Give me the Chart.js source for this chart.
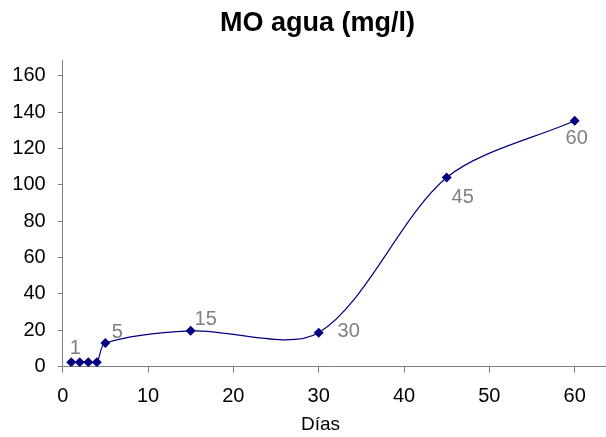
<!DOCTYPE html>
<html>
<head>
<meta charset="utf-8">
<script src="https://cdn.jsdelivr.net/npm/chart.js@4.4.1/dist/chart.umd.min.js"></script>
<style>
  html, body { margin: 0; padding: 0; background: #fff; overflow: hidden; }
  #contenedor { position: relative; width: 606px; height: 437px; }
  canvas { display: block; }
</style>
</head>
<body>
<div id="contenedor"><canvas id="grafica"></canvas></div>
<script>
// ── datos ──
const dias = [1, 2, 3, 4, 5, 15, 30, 45, 60];
const moAgua = [2.5, 2.5, 2.5, 2.5, 13, 19.7, 18.7, 104, 135.2];
const diasEtiquetados = [1, 5, 15, 30, 45, 60];
const ticksX = [0, 10, 20, 30, 40, 50, 60];
const ticksY = [0, 20, 40, 60, 80, 100, 120, 140, 160];
const titulo = "MO agua (mg/l)";
const tituloEjeX = "Días";

// desplazamiento (px) de cada etiqueta respecto a su punto
const desplazamiento = {
  1: [4, -14], 5: [12, -11], 15: [15, -11],
  30: [30, -1], 45: [16, 20], 60: [2, 18]
};

const fuente = "'Liberation Sans', Arial, sans-serif";
const colorSerie = "#000080";
const colorEje = "#808080";

// etiquetas de datos y títulos dibujados a mano
const textos = {
  id: "textos",
  afterDatasetsDraw(chart) {
    const ctx = chart.ctx;
    const meta = chart.getDatasetMeta(0);
    ctx.save();
    ctx.textAlign = "center";
    ctx.textBaseline = "middle";

    ctx.font = "20px " + fuente;
    ctx.fillStyle = "#808080";
    dias.forEach((d, i) => {
      if (!diasEtiquetados.includes(d)) return;
      const p = meta.data[i];
      const off = desplazamiento[d];
      ctx.fillText(String(d), p.x + off[0], p.y + off[1]);
    });

    ctx.fillStyle = "#000";
    ctx.font = "bold 27px " + fuente;
    ctx.fillText(titulo, 317.5, 24);

    ctx.font = "19px " + fuente;
    ctx.fillText(tituloEjeX, 320.5, 425);
    ctx.restore();
  }
};

new Chart(document.getElementById("grafica"), {
  type: "scatter",
  data: {
    datasets: [{
      data: dias.map((d, i) => ({ x: d, y: moAgua[i] })),
      showLine: true,
      tension: 0.3,
      borderColor: colorSerie,
      borderWidth: 1.2,
      backgroundColor: colorSerie,
      pointStyle: "rectRot",
      pointRadius: 5,
      pointBorderWidth: 0,
      fill: false
    }]
  },
  options: {
    responsive: true,
    maintainAspectRatio: false,
    animation: false,
    layout: {
      autoPadding: false,
      padding: { top: 60, left: 0, right: 0, bottom: 0 }
    },
    plugins: {
      legend: { display: false },
      tooltip: { enabled: false },
      title: { display: false }
    },
    scales: {
      x: {
        type: "linear",
        min: 0,
        max: 63.67,
        afterBuildTicks: s => { s.ticks = ticksX.map(v => ({ value: v })); },
        afterFit: s => {
          s.height = 70.3;
          s.paddingLeft = 0;
          s.paddingRight = 0;
        },
        border: { color: colorEje, width: 1 },
        grid: { drawOnChartArea: false, tickLength: 6, color: colorEje },
        ticks: {
          color: "#000",
          font: { size: 20, family: fuente },
          padding: 12,
          maxRotation: 0,
          autoSkip: false
        }
      },
      y: {
        min: 0,
        max: 168.6,
        afterBuildTicks: s => { s.ticks = ticksY.map(v => ({ value: v })); },
        afterFit: s => {
          s.width = 62.7;
          s.paddingTop = 0;
          s.paddingBottom = 0;
        },
        border: { color: colorEje, width: 1 },
        grid: { drawOnChartArea: false, tickLength: 5, color: colorEje },
        ticks: {
          color: "#000",
          font: { size: 20, family: fuente },
          padding: 12,
          autoSkip: false
        }
      }
    }
  },
  plugins: [textos]
});
</script>
</body>
</html>
